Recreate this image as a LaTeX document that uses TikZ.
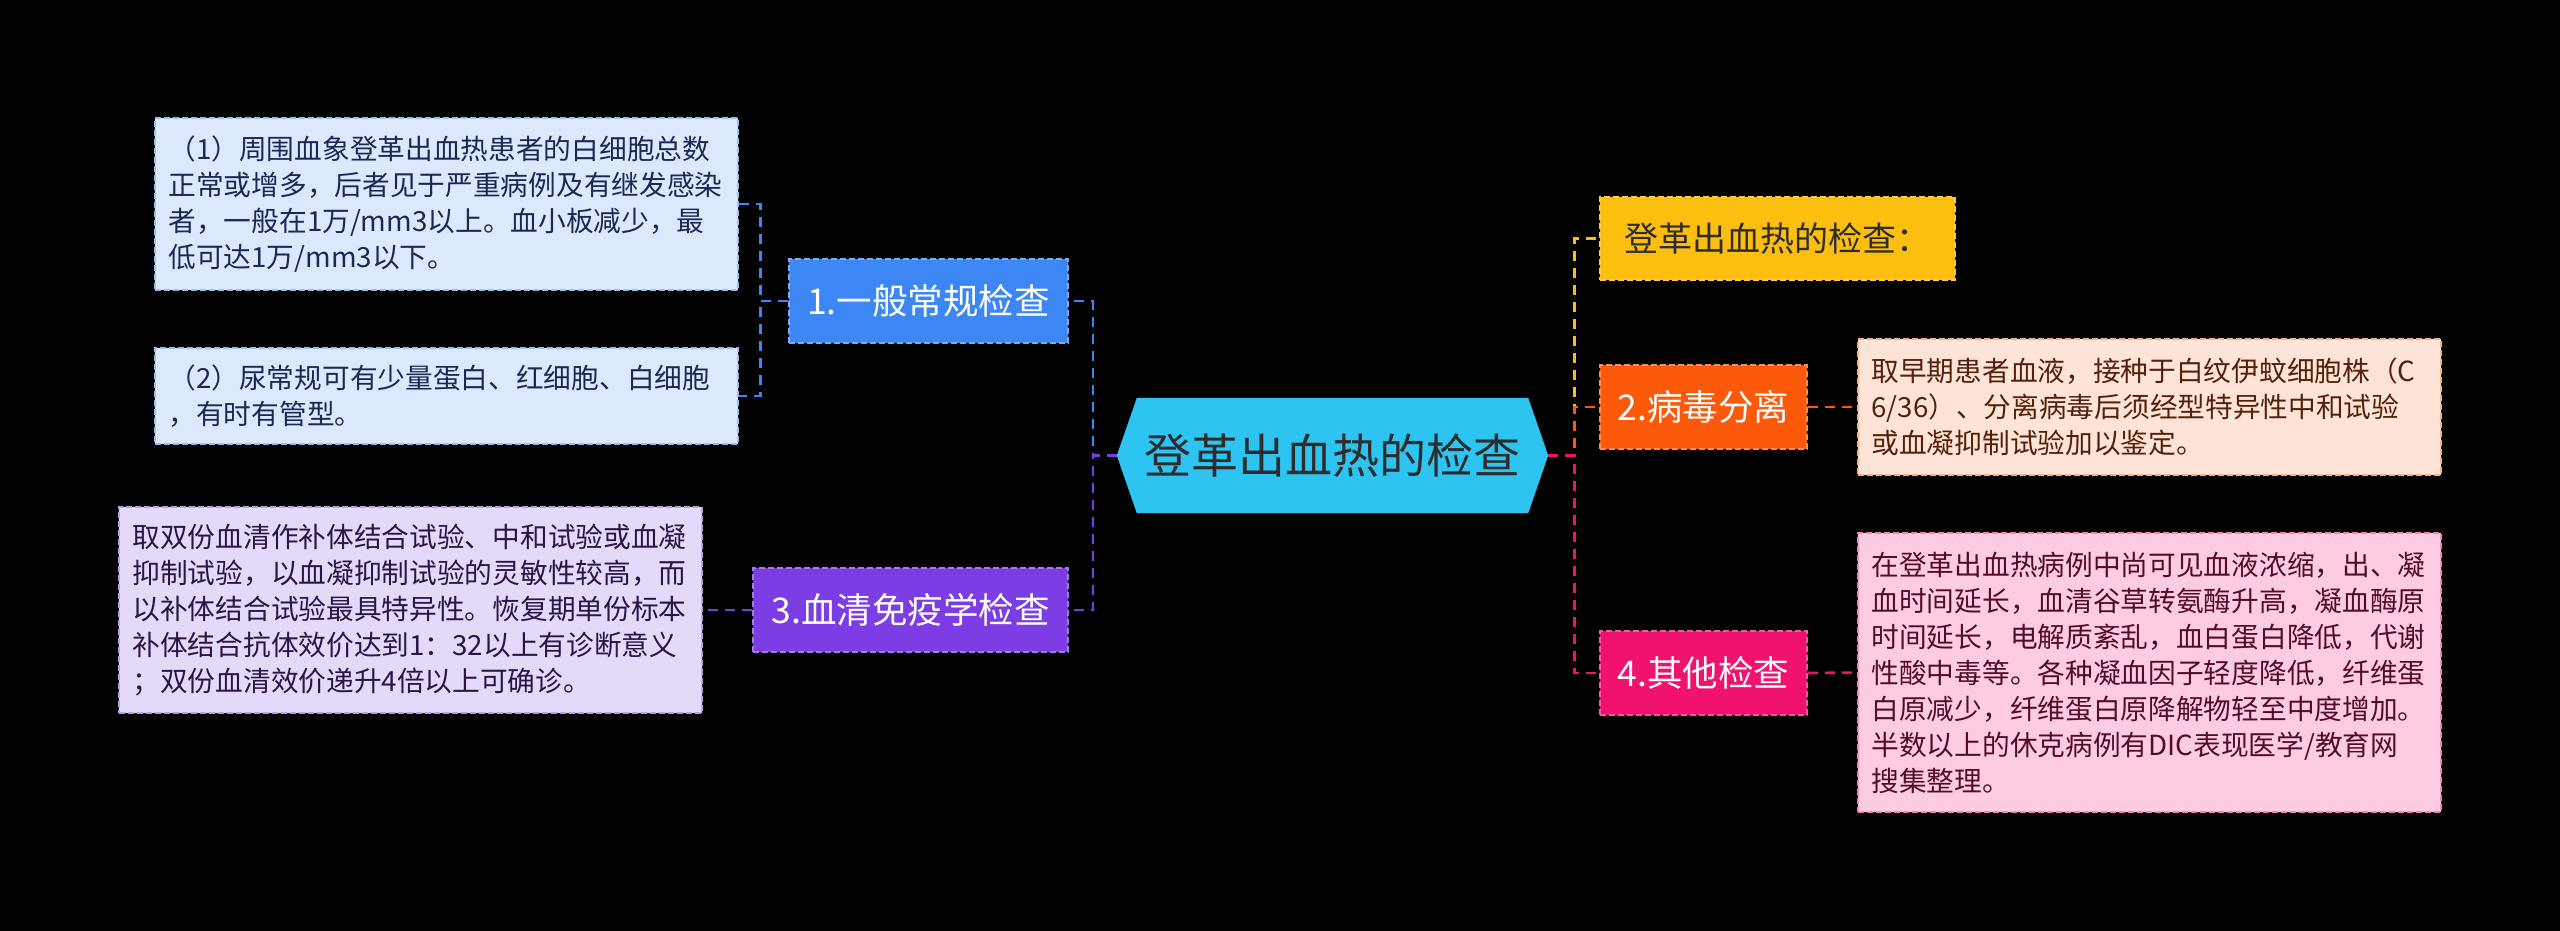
\documentclass[tikz,border=0pt]{standalone}
\usepackage{fontspec}
\setmainfont{Noto Sans CJK SC}
\pgfdeclarelayer{back}
\pgfdeclarelayer{bg}
\pgfsetlayers{back,bg,main}
\definecolor{cblue}{RGB}{61,135,245}
\definecolor{cpurple}{RGB}{124,62,228}
\definecolor{cyellow}{RGB}{252,190,15}
\definecolor{corange}{RGB}{252,90,10}
\definecolor{cpink}{RGB}{240,18,110}
\definecolor{ccyan}{RGB}{46,196,242}
\definecolor{fblue}{RGB}{220,233,252}
\definecolor{fpurple}{RGB}{228,218,248}
\definecolor{fpeach}{RGB}{253,228,214}
\definecolor{fpink}{RGB}{254,204,226}
\definecolor{tblue}{RGB}{28,40,84}
\definecolor{tpurple}{RGB}{42,20,72}
\definecolor{tbrown}{RGB}{84,34,12}
\definecolor{tpink}{RGB}{82,12,42}
\definecolor{tdark}{RGB}{45,45,45}
\begin{document}
\begin{tikzpicture}[x=1pt,y=-1pt,
  conn/.style={line width=2.6pt, dash pattern=on 10pt off 7pt},
  txtbox/.style={draw, dash pattern=on 6pt off 3pt, line width=1.5pt, minimum width=583pt, text width=556pt, inner xsep=13.5pt, inner ysep=0pt, align=left, font=\fontsize{27.7}{36}\selectfont},
  topic/.style={draw, dash pattern=on 6pt off 3pt, line width=1.5pt, minimum height=84pt, inner sep=0pt, font=\fontsize{35.5}{40}\selectfont, text=white},
]
\begin{pgfonlayer}{back}
\useasboundingbox[fill=black] (0,0) rectangle (2560,931);
\end{pgfonlayer}

% central node
\node[inner sep=0pt, minimum width=391pt, minimum height=115pt, text=tdark, font=\fontsize{47}{52}\selectfont] (c) at (1332.5,455.5) {登革出血热的检查};
\coordinate (cl) at ([xshift=-20pt]c.west);
\coordinate (cr) at ([xshift=20pt]c.east);
\begin{pgfonlayer}{bg}
\fill[ccyan] (cl) -- (c.north west) -- (c.north east) -- (cr) -- (c.south east) -- (c.south west) -- cycle;
\end{pgfonlayer}

% left topics
\node[topic, fill=cblue, draw=cblue!70!white, minimum width=279pt] (n1) at (928.5,301) {1.一般常规检查};
\node[topic, fill=cpurple, draw=cpurple!70!white, minimum width=315pt] (n3) at (910.5,610) {3.血清免疫学检查};

% right topics
\node[topic, fill=cyellow, draw=cyellow!80!white, minimum width=355pt, minimum height=83pt, text=tdark, font=\fontsize{34}{40}\selectfont] (n0) at (1777.5,238.5) {登革出血热的检查：};
\node[topic, fill=corange, draw=corange!70!white, minimum width=207pt] (n2) at (1703.5,407) {2.病毒分离};
\node[topic, fill=cpink, draw=cpink!70!white, minimum width=207pt] (n4) at (1703.5,673) {4.其他检查};

% text boxes
\node[txtbox, fill=fblue, draw=cblue!45!fblue, text=tblue, minimum height=172pt] (ta) at (446.5,204) {（1）周围血象登革出血热患者的白细胞总数\\正常或增多，后者见于严重病例及有继发感染\\者，一般在1万/mm3以上。血小板减少，最\\低可达1万/mm3以下。};
\node[txtbox, fill=fblue, draw=cblue!45!fblue, text=tblue, minimum height=96pt] (tb) at (446.5,396) {（2）尿常规可有少量蛋白、红细胞、白细胞\\，有时有管型。};
\node[txtbox, fill=fpurple, draw=cpurple!40!fpurple, text=tpurple, minimum height=206pt] (tc) at (410.5,610) {取双份血清作补体结合试验、中和试验或血凝\\抑制试验，以血凝抑制试验的灵敏性较高，而\\以补体结合试验最具特异性。恢复期单份标本\\补体结合抗体效价达到1：32以上有诊断意义\\；双份血清效价递升4倍以上可确诊。};
\node[txtbox, fill=fpeach, draw=corange!40!fpeach, text=tbrown, minimum height=136pt] (td) at (2149.5,407) {取早期患者血液，接种于白纹伊蚊细胞株（C\\6/36）、分离病毒后须经型特异性中和试验\\或血凝抑制试验加以鉴定。};
\node[txtbox, fill=fpink, draw=cpink!40!fpink, text=tpink, minimum height=279pt] (te) at (2149.5,672.5) {在登革出血热病例中尚可见血液浓缩，出、凝\\血时间延长，血清谷草转氨酶升高，凝血酶原\\时间延长，电解质紊乱，血白蛋白降低，代谢\\性酸中毒等。各种凝血因子轻度降低，纤维蛋\\白原减少，纤维蛋白原降解物轻至中度增加。\\半数以上的休克病例有DIC表现医学/教育网\\搜集整理。};

% connectors: center -> topics
\draw[conn, cblue] (cl) -- ++(-24,0) |- (n1.east);
\draw[conn, cpurple] (cl) -- ++(-24,0) |- (n3.east);
\draw[conn, cyellow] (cr) -- ++(26,0) |- (n0.west);
\draw[conn, corange] (cr) -- ++(26,0) |- (n2.west);
\draw[conn, cpink] (cr) -- ++(26,0) |- (n4.west);

% topics -> text boxes
\draw[conn, cblue] (n1.west) -- ++(-28,0) |- (ta.east);
\draw[conn, cblue] (n1.west) -- ++(-28,0) |- (tb.east);
\draw[conn, cpurple] (n3.west) -- (tc.east);
\draw[conn, corange] (n2.east) -- (td.west);
\draw[conn, cpink] (n4.east) -- (te.west);
\end{tikzpicture}
\end{document}
